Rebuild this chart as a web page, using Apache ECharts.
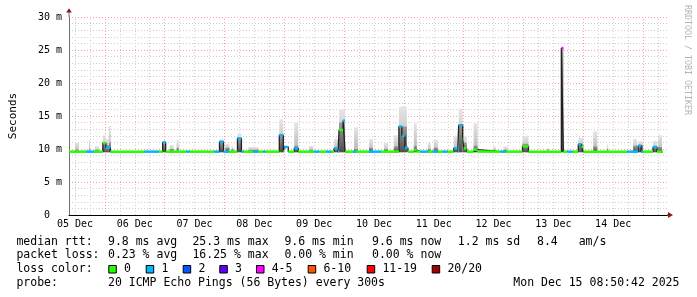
<!DOCTYPE html>
<html><head><meta charset="utf-8">
<script src="https://cdn.jsdelivr.net/npm/echarts@6/dist/echarts.min.js"></script>
<style>html,body{margin:0;padding:0;background:#fff}#c{width:697px;height:297px}</style>
</head><body><div id="c"></div>
<script>
// ---- axis / labels (hours since 05 Dec 00:00) ----
const dayLabels = ['05 Dec','06 Dec','07 Dec','08 Dec','09 Dec','10 Dec','11 Dec','12 Dec','13 Dec','14 Dec'];
const dayLabelHours = [12,36,60,84,108,132,156,180,204,228];
const xMin = 9.6, xMax = 249.6;
const lossColors = ['#26ff00','#00b8ff','#0059ff','#5e00ff','#ff00ff','#ff5500','#ff0000','#a10000'];
const lossLabels = ['0','1','2','3','4-5','6-10','11-19','20/20'];

// ---- median rtt (ms), step segments: start hour, value, loss class ----
const medTime  = [9.6,16.4,19.6,23.2,24.4,26.2,40.0,45.6,47.2,48.4,56.8,58.0,68.0,70.0,71.6,73.6,77.2,78.8,79.6,83.6,85.6,87.6,88.4,94.0,95.6,96.0,97.6,100.0,101.6,108.0,110.0,112.8,114.8,116.0,117.6,118.0,119.6,120.4,123.6,124.8,130.0,134.8,142.0,143.2,144.4,145.6,148.0,149.2,150.8,153.6,155.6,157.6,159.6,161.6,164.0,165.6,166.0,167.6,168.0,169.2,172.0,173.6,182.8,184.8,191.6,194.0,207.2,208.0,209.6,211.6,214.0,215.2,216.0,233.6,238.0,239.2,240.0,244.0,245.6,248.0];
const medValue = [9.6,9.6,9.6,10.9,10.2,9.6,9.6,9.6,11.0,9.6,9.6,9.6,9.6,11.1,9.6,9.6,11.6,9.6,9.6,9.6,9.6,9.6,9.6,12.1,9.6,10.3,9.6,10.1,9.6,9.6,9.6,9.6,9.6,10.1,9.6,12.9,14.3,9.6,9.6,9.6,9.6,9.6,13.4,12.0,10.2,9.6,9.8,9.6,9.6,9.6,9.6,9.6,9.6,9.6,10.1,9.6,13.6,11.5,10.1,9.6,9.9,9.6,9.6,9.6,10.4,9.6,25.3,9.6,9.6,9.6,10.7,10.3,9.6,9.6,10.5,9.6,9.6,10.3,9.6,9.6];
const medLoss  = [0,1,0,0,1,0,1,0,1,0,1,0,1,1,1,0,1,1,0,1,0,1,0,1,0,1,0,1,0,1,0,1,0,1,1,0,1,0,1,0,1,0,1,1,1,0,0,0,1,0,1,0,1,0,1,1,1,0,0,0,0,0,1,0,0,0,4,0,1,0,1,0,0,1,1,1,0,1,0,0];

// ---- smoke (ping spread, ms): start hour, end hour, low, inner, high ----
const smokeStart = [12.0,17.6,20.0,23.2,24.4,25.6,47.2,50.0,52.8,70.0,72.4,74.8,77.2,81.6,94.0,100.0,106.0,116.0,118.0,124.0,130.0,136.0,140.0,142.0,148.0,153.6,156.0,164.0,166.0,167.6,172.0,180.0,184.0,191.6,201.6,207.2,214.0,220.0,225.6,236.0,238.0,244.0,246.0];
const smokeEnd   = [13.6,18.0,21.6,24.4,25.6,26.4,48.4,51.6,53.6,71.6,74.0,75.6,78.8,85.6,95.6,101.6,107.6,117.6,120.4,125.6,131.6,137.6,141.6,145.2,149.2,154.8,157.6,165.6,167.6,169.2,173.6,180.8,185.6,194.0,202.0,208.0,216.0,221.6,226.0,237.6,240.0,245.6,247.6];
const smokeLow   = [9.5,9.5,9.5,9.5,9.5,9.5,9.5,9.5,9.5,9.5,9.5,9.5,9.5,9.5,9.5,9.5,9.5,9.5,9.5,9.5,9.5,9.5,9.5,9.5,9.5,9.5,9.5,9.5,9.5,9.5,9.5,9.5,9.5,9.5,9.5,9.5,9.5,9.5,9.5,9.5,9.5,9.5,9.5];
const smokeMid   = [9.9,10.0,9.9,11.0,10.6,11.0,10.8,10.0,10.2,11.0,10.2,10.0,11.5,9.9,12.1,10.5,9.9,10.2,14.0,10.0,10.2,10.0,10.4,13.4,10.5,10.0,10.2,10.3,13.6,11.0,10.5,9.9,9.9,10.8,10.0,25.3,10.8,10.4,10.0,10.5,10.6,10.4,10.3];
const smokeHigh  = [11.0,11.4,10.4,12.1,11.5,13.5,11.1,10.6,11.4,11.5,10.8,10.4,12.4,10.3,14.5,14.0,10.5,11.6,16.0,13.3,11.5,10.9,12.1,16.4,13.9,10.9,11.4,12.0,16.1,12.0,13.9,10.4,10.4,12.0,10.2,25.3,11.7,12.7,10.8,11.5,11.2,11.2,12.1];

// ---- legend texts ----
const rttRow  = ['median rtt:','9.8 ms avg','25.3 ms max','9.6 ms min','9.6 ms now','1.2 ms sd','8.4','am/s'];
const lossRow = ['packet loss:','0.23 % avg','16.25 % max','0.00 % min','0.00 % now'];
const probeRow = ['probe:','20 ICMP Echo Pings (56 Bytes) every 300s','Mon Dec 15 08:50:42 2025'];

(function () {
const MONO = '"DejaVu Sans Mono", monospace';
const chart = echarts.init(document.getElementById('c'), null, {renderer:'canvas'});

const gridHours = [];
for (let h = 12; h < xMax; h += 6) gridHours.push(h);

const smokeData = smokeStart.map((s,i)=>[s, smokeEnd[i], smokeLow[i], smokeMid[i], smokeHigh[i]]);
const medLine = medTime.map((t,i)=>[t, medValue[i]]);
const medSegs = [];
for (let i = 0; i < medTime.length - 1; i++) medSegs.push([medTime[i], medTime[i+1], medValue[i], medLoss[i]]);

const outerGrad = new echarts.graphic.LinearGradient(0,0,0,1,[{offset:0,color:'#e6e6e6'},{offset:1,color:'#b4b4b4'}]);
const innerGrad = new echarts.graphic.LinearGradient(0,0,0,1,[{offset:0,color:'#9a9a9a'},{offset:1,color:'#4e4e4e'}]);

chart.setOption({
  animation:false,
  backgroundColor:'#fff',
  grid:{left:67, top:17, width:600, height:198, containLabel:false},
  xAxis:{
    type:'value', min:xMin, max:xMax,
    splitLine:{show:false}, axisTick:{show:false},
    axisLine:{lineStyle:{color:'#000', width:1}},
    axisLabel:{customValues: dayLabelHours, hideOverlap:false,
      formatter: v => { const i = dayLabelHours.indexOf(Math.round(v)); return i >= 0 ? dayLabels[i] : ''; },
      fontFamily:MONO, fontSize:10, color:'#000', margin:4}
  },
  yAxis:{
    type:'value', min:0, max:30, interval:5,
    axisLine:{show:true, lineStyle:{color:'#707070'}},
    axisTick:{show:false},
    splitLine:{show:true, lineStyle:{color:'rgba(255,0,0,0.38)', type:[1,2]}},
    minorTick:{show:false, splitNumber:5},
    minorSplitLine:{show:true, lineStyle:{color:'#cfcfcf', type:[1,2]}},
    axisLabel:{formatter: v => v === 0 ? '0  ' : v + ' m', fontFamily:MONO, fontSize:10, color:'#000', margin:7},
    name:'Seconds', nameLocation:'middle', nameGap:50,
    nameTextStyle:{fontFamily:MONO, fontSize:11, color:'#000'}
  },
  series:[
    { type:'line', data:[], z:1, silent:true,
      markLine:{ silent:true, symbol:'none', z:1, label:{show:false}, animation:false,
        data: gridHours.map(h => ({xAxis:h, lineStyle:{color: h % 24 === 0 ? 'rgba(255,0,0,0.38)' : '#cfcfcf', type:[1,2], width:1}})) } },
    { type:'custom', z:2, silent:true, data:smokeData,
      encode:{x:[0,1], y:[2,3,4]},
      renderItem:(params, api) => {
        const t0 = api.value(0), t1 = api.value(1), lo = api.value(2), mid = api.value(3), hi = api.value(4);
        const pLo = api.coord([t0, lo]), pHi = api.coord([t1, hi]), pMid = api.coord([t0, mid]);
        const x = pLo[0], w = pHi[0] - pLo[0];
        return {type:'group', children:[
          {type:'rect', shape:{x:x, y:pHi[1], width:w, height:pLo[1]-pHi[1]}, style:{fill:outerGrad}},
          {type:'rect', shape:{x:x, y:pMid[1], width:w, height:pLo[1]-pMid[1]}, style:{fill:innerGrad}}
        ]};
      } },
    { type:'line', z:3, silent:true, data:medLine, step:'end', symbol:'none',
      lineStyle:{color:'#202020', width:1.3} },
    { type:'custom', z:4, silent:true, data:medSegs,
      encode:{x:[0,1], y:2},
      renderItem:(params, api) => {
        const a = api.coord([api.value(0), api.value(2)]), b = api.coord([api.value(1), api.value(2)]);
        return {type:'line', shape:{x1:a[0], y1:a[1], x2:b[0], y2:b[1]},
          style:{stroke:lossColors[api.value(3)], lineWidth:2.5, lineCap:'butt'}};
      } }
  ]
});

// decorations and legend
const pTop = chart.convertToPixel({gridIndex:0}, [xMin, 30]);
const pRight = chart.convertToPixel({gridIndex:0}, [xMax, 0]);
const T = (text, x, y) => ({type:'text', x:x, y:y, silent:true,
  style:{text:text, font:'11.5px ' + MONO, fill:'#000', align:'left', verticalAlign:'middle'}});
const rttX = [16.4,108,192.4,284.4,372,457.8,537,578.7];
const lossX = [16.4,108,192.4,284.4,372];
const probeX = [16.4,108,513.3];
const boxX = [108.3,145.7,182.7,219.3,256,307.7,366.7,431.7];
const g = [];
g.push({type:'line', silent:true, shape:{x1:pTop[0], y1:pTop[1], x2:pTop[0], y2:12}, style:{stroke:'#707070', lineWidth:1}});
g.push({type:'polygon', silent:true, shape:{points:[[pTop[0]-2.8,12.6],[pTop[0]+2.8,12.6],[pTop[0],8.2]]}, style:{fill:'#8b1a1a'}});
g.push({type:'line', silent:true, shape:{x1:pRight[0], y1:pRight[1], x2:pRight[0]+2, y2:pRight[1]}, style:{stroke:'#000', lineWidth:1}});
g.push({type:'polygon', silent:true, shape:{points:[[pRight[0]+1,pRight[1]-3],[pRight[0]+1,pRight[1]+3],[pRight[0]+6,pRight[1]]]}, style:{fill:'#8b1a1a'}});
g.push({type:'text', silent:true, x:687.5, y:60, rotation:-Math.PI/2,
  style:{text:'RRDTOOL / TOBI OETIKER', font:'8.3px ' + MONO, fill:'#b4b4b4', align:'center', verticalAlign:'middle'}});
rttRow.forEach((s,i)=>g.push(T(s, rttX[i], 241.7)));
lossRow.forEach((s,i)=>g.push(T(s, lossX[i], 255)));
g.push(T('loss color:', 16.4, 269));
lossLabels.forEach((s,i)=>{
  g.push({type:'rect', silent:true, shape:{x:boxX[i]+0.5, y:265.5, width:7.5, height:7.5}, style:{fill:lossColors[i], stroke:'#000', lineWidth:1}});
  g.push(T(s, boxX[i]+15.7, 269));
});
probeRow.forEach((s,i)=>g.push(T(s, probeX[i], 282.7)));
chart.setOption({graphic:{elements:g}});
})();
</script>
</body></html>
